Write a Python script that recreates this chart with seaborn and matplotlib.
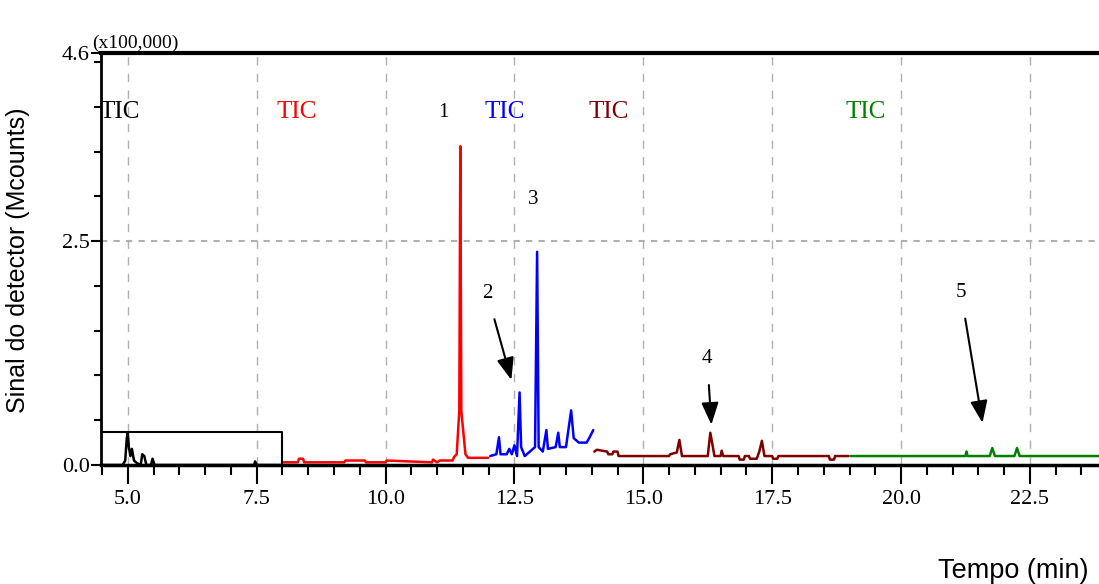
import matplotlib
matplotlib.use("Agg")
import matplotlib.pyplot as plt
import seaborn as sns
import pandas as pd
import numpy as np

# ---- data ----
black_x = [4.48, 4.90, 4.95, 4.98, 5.00, 5.02, 5.05, 5.08, 5.12, 5.18, 5.25, 5.28, 5.32, 5.36,
           5.45, 5.48, 5.52, 5.60, 7.45, 7.47, 7.50, 8.00]
black_y = [0.00, 0.00, 0.05, 0.30, 0.36, 0.20, 0.10, 0.18, 0.05, 0.02, 0.00, 0.12, 0.10, 0.00,
           0.00, 0.07, 0.00, 0.00, 0.00, 0.04, 0.00, 0.00]
box_x = [4.48, 8.00, 8.00]
box_y = [0.37, 0.37, 0.00]

red_x = [8.00, 8.30, 8.32, 8.40, 8.42, 9.20, 9.22, 9.60, 9.62, 10.00, 10.02, 10.90, 10.92, 11.00,
         11.05, 11.30, 11.33, 11.38, 11.43, 11.45, 11.47, 11.50, 11.55, 11.60, 11.99]
red_y = [0.03, 0.03, 0.07, 0.07, 0.03, 0.03, 0.05, 0.05, 0.03, 0.03, 0.05, 0.03, 0.06, 0.03,
         0.05, 0.05, 0.09, 0.12, 0.60, 3.56, 0.60, 0.42, 0.12, 0.08, 0.08]

blue_x = [12.03, 12.15, 12.20, 12.23, 12.35, 12.40, 12.45, 12.50, 12.55, 12.60, 12.63, 12.70,
          12.80, 12.90, 12.94, 12.97, 13.05, 13.12, 13.15, 13.30, 13.35, 13.38, 13.50, 13.60,
          13.65, 13.75, 13.90, 13.95, 14.03]
blue_y = [0.10, 0.12, 0.31, 0.12, 0.12, 0.18, 0.12, 0.22, 0.10, 0.81, 0.20, 0.10,
          0.15, 0.20, 2.38, 0.20, 0.15, 0.39, 0.18, 0.20, 0.36, 0.20, 0.20, 0.61,
          0.30, 0.25, 0.25, 0.30, 0.39]

brown_x = [14.05, 14.10, 14.30, 14.32, 14.40, 14.42, 14.50, 14.52, 15.50, 15.52, 15.65, 15.70,
           15.75, 16.25, 16.30, 16.35, 16.38, 16.50, 16.52, 16.55, 16.85, 16.87, 16.95, 16.97,
           17.05, 17.07, 17.20, 17.25, 17.30, 17.35, 17.50, 17.52, 17.60, 17.62, 18.60, 18.62,
           18.70, 18.72, 18.98]
brown_y = [0.15, 0.17, 0.15, 0.12, 0.12, 0.15, 0.15, 0.10, 0.10, 0.12, 0.14, 0.28,
           0.10, 0.10, 0.36, 0.20, 0.10, 0.10, 0.16, 0.10, 0.10, 0.06, 0.06, 0.10,
           0.10, 0.07, 0.07, 0.15, 0.27, 0.10, 0.10, 0.07, 0.07, 0.10, 0.10, 0.06,
           0.06, 0.10, 0.10]

green_x = [19.02, 21.25, 21.27, 21.29, 21.72, 21.77, 21.82, 22.20, 22.25, 22.30, 23.84]
green_y = [0.10, 0.10, 0.15, 0.10, 0.10, 0.19, 0.10, 0.10, 0.19, 0.10, 0.10]

seg_colors = {"s1": "#000000", "s2": "#ff0000", "s3": "#0000ff", "s4": "#800000", "s5": "#008000"}
tic_x = [4.84, 8.28, 12.32, 14.32, 19.31]
tic_y = 3.94

x_major = [5.0, 7.5, 10.0, 12.5, 15.0, 17.5, 20.0, 22.5]
y_major = [0.0, 2.5, 4.6]
y_labels = ["0.0", "2.5", "4.6"]

# ---- build table ----
frames = []
for name, xs, ys in [("s1", black_x, black_y), ("s2", red_x, red_y), ("s3", blue_x, blue_y),
                     ("s4", brown_x, brown_y), ("s5", green_x, green_y)]:
    frames.append(pd.DataFrame({"t": xs, "sig": ys, "seg": name}))
df = pd.concat(frames, ignore_index=True)

sns.set_style("white")
plt.rcParams["text.color"] = "black"
plt.rcParams["xtick.labelcolor"] = "black"
plt.rcParams["ytick.labelcolor"] = "black"

fig = plt.figure(figsize=(10.99, 5.84), dpi=100)
ax = fig.add_axes([101 / 1099, 1 - 465 / 584, 1 - 101 / 1099, (465 - 53) / 584])

sns.lineplot(data=df, x="t", y="sig", hue="seg", palette=seg_colors, estimator=None,
             sort=False, legend=False, linewidth=1.8, ax=ax)
ax.plot(box_x, box_y, color="black", linewidth=1.5)

ax.set_xlim(4.48, 23.84)
ax.set_ylim(0, 4.6)

serif = dict(family="Liberation Serif")

ax.set_xticks(x_major)
ax.set_xticklabels([f"{v:.1f}" for v in x_major], fontsize=16, color="black", **serif)
ax.set_xticks(np.arange(4.5, 23.9, 0.5), minor=True)
ax.set_yticks(y_major)
ax.set_yticklabels(y_labels, fontsize=16, color="black", **serif)
ax.set_yticks(np.arange(0.5, 4.6, 0.5), minor=True)
ax.tick_params(axis="x", which="both", bottom=True, top=False)
ax.tick_params(axis="y", which="both", left=True, right=False)
ax.tick_params(axis="x", which="major", direction="out", length=14, width=1.5, pad=4,
               color="black")
ax.tick_params(axis="x", which="minor", direction="out", length=7, width=1.5, color="black")
ax.tick_params(axis="y", which="major", direction="out", length=7, width=1.5, pad=1,
               color="black")
ax.tick_params(axis="y", which="minor", direction="out", length=5, width=1.5, color="black")

for v in x_major:
    ax.axvline(v, color="#b0b0b0", linestyle=(0, (6, 6)), linewidth=1.0, zorder=0)
ax.axhline(2.5, color="#b0b0b0", linestyle=(0, (3, 3)), linewidth=1.5, zorder=0)

for s in ["left", "bottom", "top"]:
    ax.spines[s].set_color("black")
ax.spines["left"].set_linewidth(2)
ax.spines["bottom"].set_linewidth(2.5)
ax.spines["top"].set_linewidth(3)
ax.spines["right"].set_visible(False)

ax.set_xlabel("")
ax.set_ylabel("")

for xpos, (seg, col) in zip(tic_x, seg_colors.items()):
    ax.text(xpos, tic_y, "TIC", color=col, fontsize=18, ha="center", va="center", **serif)

ax.text(4.30, 4.61, "(x100,000)", fontsize=14, ha="left", va="bottom", clip_on=False,
        color="black", **serif)

num_font = dict(family="Liberation Serif", fontsize=15, color="black")
ax.text(11.12, 3.94, "1", ha="center", va="center", **num_font)
ax.text(12.86, 2.96, "3", ha="center", va="center", **num_font)
arrow = dict(arrowstyle="-|>,head_width=0.35,head_length=0.9", color="black", lw=1.5)
ax.annotate("2", xy=(12.44, 0.95), xytext=(11.97, 1.92), ha="center", va="center",
            arrowprops=dict(**arrow, shrinkA=10, shrinkB=0), **num_font)
ax.annotate("4", xy=(16.32, 0.45), xytext=(16.24, 1.19), ha="center", va="center",
            arrowprops=dict(**arrow, shrinkA=10, shrinkB=0), **num_font)
ax.annotate("5", xy=(21.58, 0.47), xytext=(21.16, 1.93), ha="center", va="center",
            arrowprops=dict(**arrow, shrinkA=10, shrinkB=0), **num_font)

fig.text(18 / 1099, 1 - 260 / 584, "Sinal do detector (Mcounts)", rotation=90, ha="center",
         va="center", fontsize=18, color="black", family="Liberation Sans")
fig.text(1088 / 1099, 1 - 571 / 584, "Tempo (min)", ha="right", va="center", fontsize=19.5,
         color="black", family="Liberation Sans")

fig.savefig("out.png", dpi=100)
